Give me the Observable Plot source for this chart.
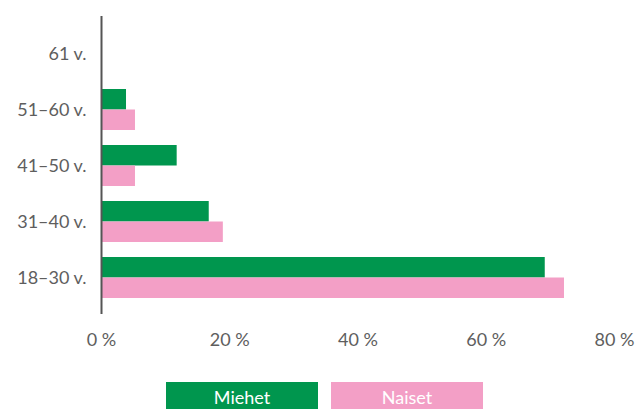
<!DOCTYPE html>
<html>
<head>
<meta charset="utf-8">
<script src="https://cdn.jsdelivr.net/npm/d3@7"></script>
<script src="https://cdn.jsdelivr.net/npm/@observablehq/plot@0.6"></script>
<style>
  html, body { margin: 0; padding: 0; background: #fff; }
  body { width: 639px; height: 409px; overflow: hidden; font-family: Lato, "Open Sans", sans-serif; }
  #legend { position: relative; height: 40px; }
  .lg { position: absolute; top: 12px; height: 28px; width: 152px; color: #fff; font-size: 18px; text-align: center; line-height: 30px; }
</style>
</head>
<body>
<div id="chart"></div>
<div id="legend"></div>
<script>
const categories = ["61 v.", "51–60 v.", "41–50 v.", "31–40 v.", "18–30 v."];
const series = ["Miehet", "Naiset"];
const miehet = [0, 3.9, 11.8, 16.8, 69.2];
const naiset = [0, 5.3, 5.3, 19.0, 72.2];
const xTicks = [0, 20, 40, 60, 80];
const colors = ["#00964e", "#f39fc6"];

const dataM = categories.map((c, i) => ({age: c, value: miehet[i], series: "Miehet"}));
const dataN = categories.map((c, i) => ({age: c, value: naiset[i], series: "Naiset"}));

const half = 20.5;
const chart = Plot.plot({
  width: 639,
  height: 370,
  marginLeft: 101,
  marginRight: 25,
  marginTop: 16,
  marginBottom: 56,
  style: {fontFamily: "Lato, 'Open Sans', sans-serif", fontSize: "18px", color: "#5e5e5e", background: "#fff"},
  x: {domain: [0, 80], ticks: xTicks, tickFormat: d => d + " %", tickSize: 0, tickPadding: 19, label: null},
  y: {domain: categories, paddingInner: 0.274, paddingOuter: 0.274, align: 0.5, tickSize: 0, tickPadding: 15, label: null},
  marks: [
    Plot.gridX(xTicks.filter(d => d > 0), {stroke: "#d9d9d9", strokeOpacity: 1, strokeWidth: 1.5, y1: categories[0], y2: categories[4], insetTop: -36, insetBottom: -36}),
    Plot.barX(dataM, {y: "age", x: "value", fill: colors[0], insetBottom: half}),
    Plot.barX(dataN, {y: "age", x: "value", fill: colors[1], insetTop: half}),
    Plot.ruleX([0], {stroke: "#555", strokeWidth: 2})
  ]
});
document.getElementById("chart").appendChild(chart);

const legend = document.getElementById("legend");
const lefts = [166, 331];
series.forEach((s, i) => {
  const d = document.createElement("div");
  d.className = "lg";
  d.style.left = lefts[i] + "px";
  d.style.background = colors[i];
  d.textContent = s;
  legend.appendChild(d);
});
</script>
</body>
</html>
